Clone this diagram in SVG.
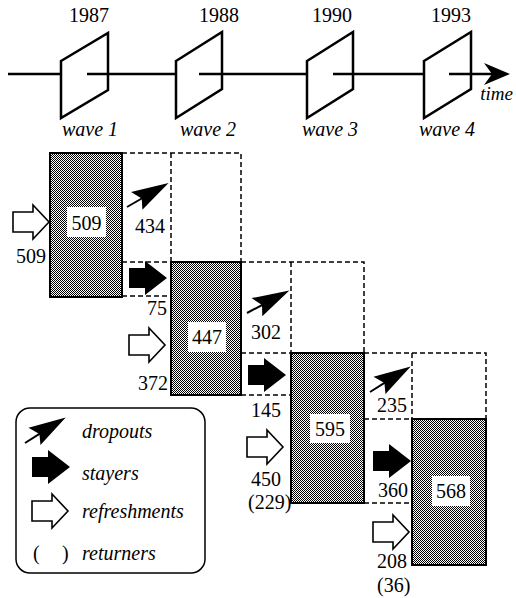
<svg xmlns="http://www.w3.org/2000/svg" xmlns:xlink="http://www.w3.org/1999/xlink" width="516" height="598" viewBox="0 0 516 598" font-family="'Liberation Serif', Tinos, Times, 'Times New Roman', 'DejaVu Serif', serif">
<style>
text{font-family:"Liberation Serif",Tinos,Times,"Times New Roman","DejaVu Serif",serif;font-size:20px;fill:#000}
.it{font-style:italic}
.lg{font-style:italic;font-size:20px}
.mid{text-anchor:middle}
.end{text-anchor:end}
.tl{stroke:#000;stroke-width:2.5;fill:none}
.plane{stroke:#000;stroke-width:2.5;fill:none;stroke-linejoin:miter}
.dash{stroke:#000;stroke-width:1.5;stroke-dasharray:5 3;fill:none}
.wave{fill:url(#chk);stroke:#000;stroke-width:2}
.lab{fill:#fff}
</style>
<defs>
<pattern id="chk" width="2" height="2" patternUnits="userSpaceOnUse">
<rect width="2" height="2" fill="#fff"/>
<rect width="1" height="1" fill="#000"/>
<rect x="1" y="1" width="1" height="1" fill="#000"/>
</pattern>
<path id="stay" d="M0,-10 L16,-10 L16,-17 L38,0 L16,17 L16,10 L0,10 Z" fill="#000"/>
<path id="refr" d="M0,-10 L20,-10 L20,-17 L36,0 L20,17 L20,10 L0,10 Z" fill="#fff" stroke="#000" stroke-width="1.6" stroke-linejoin="miter"/>
<g id="drop">
<line x1="0" y1="0" x2="18" y2="0" stroke="#000" stroke-width="2"/>
<polygon points="48,0 11,-11 17,0 12,10" fill="#000"/>
</g>
</defs>

<g id="timeline">
<line class="tl" x1="8" y1="74" x2="61" y2="74"/>
<line class="tl" x1="87" y1="74" x2="176" y2="74"/>
<line class="tl" x1="199" y1="74" x2="307" y2="74"/>
<line class="tl" x1="333" y1="74" x2="424" y2="74"/>
<line class="tl" x1="449" y1="74" x2="495" y2="74"/>
<polygon points="510,74 484,63 492,74 484,85" fill="#000"/>
<text class="it" x="513" y="100" text-anchor="end" style="font-size:19px">time</text>
</g>

<g id="wave1">
<polygon class="plane" points="61,61 108,33 108,90 61,118"/>
<text class="mid" x="89" y="22">1987</text>
<text class="it mid" x="90" y="136">wave 1</text>
</g>
<g id="wave2">
<polygon class="plane" points="176,61 222,32 222,89 176,118"/>
<text class="mid" x="219" y="22">1988</text>
<text class="it mid" x="208" y="136">wave 2</text>
</g>
<g id="wave3">
<polygon class="plane" points="307,61 353,32 353,89 307,118"/>
<text class="mid" x="332" y="22">1990</text>
<text class="it mid" x="330" y="136">wave 3</text>
</g>
<g id="wave4">
<polygon class="plane" points="424,61 471,32 471,89 424,118"/>
<text class="mid" x="451" y="22">1993</text>
<text class="it mid" x="447" y="136">wave 4</text>
</g>

<g id="connectors">
<path class="dash" d="M122,153 H241 V262 M171,153 V262 M122,262 H171 M122,296 H171"/>
<path class="dash" d="M241,262 H364 V353 M291,262 V353 M241,353 H291 M241,395 H291"/>
<path class="dash" d="M364,353 H486 V419 M412,353 V419 M364,419 H412 M364,503 H412"/>
</g>

<g id="box1">
<rect class="wave" x="50" y="153" width="72" height="144"/>
<rect class="lab" x="67" y="207" width="39" height="30"/>
<text class="mid" x="86.5" y="230">509</text>
</g>
<g id="box2">
<rect class="wave" x="171" y="262" width="70" height="133"/>
<rect class="lab" x="188" y="322" width="38" height="30"/>
<text class="mid" x="207" y="344">447</text>
</g>
<g id="box3">
<rect class="wave" x="291" y="353" width="73" height="150"/>
<rect class="lab" x="310" y="414" width="40" height="29"/>
<text class="mid" x="330" y="436">595</text>
</g>
<g id="box4">
<rect class="wave" x="412" y="419" width="74" height="146"/>
<rect class="lab" x="432" y="476" width="38" height="30"/>
<text class="mid" x="451" y="498">568</text>
</g>

<g id="flows1">
<use xlink:href="#refr" x="13" y="222"/>
<text class="end" x="46" y="263">509</text>
<use xlink:href="#drop" transform="translate(127,207) rotate(-30)"/>
<text x="135" y="233">434</text>
<use xlink:href="#stay" x="129" y="278"/>
<text class="end" x="167" y="315">75</text>
</g>
<g id="flows2">
<use xlink:href="#refr" x="129" y="345"/>
<text class="end" x="168" y="390">372</text>
<use xlink:href="#drop" transform="translate(247,313) rotate(-28)"/>
<text x="251" y="339">302</text>
<use xlink:href="#stay" x="248" y="375"/>
<text x="251" y="417">145</text>
</g>
<g id="flows3">
<use xlink:href="#refr" x="247" y="447"/>
<text x="251" y="486">450</text>
<text x="248" y="509">(229)</text>
<use xlink:href="#drop" transform="translate(370,392) rotate(-32)"/>
<text x="377" y="412">235</text>
<use xlink:href="#stay" x="373" y="461"/>
<text x="378" y="497">360</text>
</g>
<g id="flows4">
<use xlink:href="#refr" x="373" y="532"/>
<text x="377" y="568">208</text>
<text x="377" y="592">(36)</text>
</g>

<g id="legend">
<rect x="16" y="408" width="189" height="165" rx="14" fill="none" stroke="#000" stroke-width="1.5"/>
<use xlink:href="#drop" transform="translate(25,443) rotate(-32)"/>
<text class="lg" x="82" y="438">dropouts</text>
<use xlink:href="#stay" x="32" y="467"/>
<text class="lg" x="82" y="480">stayers</text>
<use xlink:href="#refr" x="32" y="511"/>
<text class="lg" x="82" y="518">refreshments</text>
<text x="33" y="560">(</text>
<text x="62" y="560">)</text>
<text class="lg" x="82" y="560">returners</text>
</g>
</svg>
